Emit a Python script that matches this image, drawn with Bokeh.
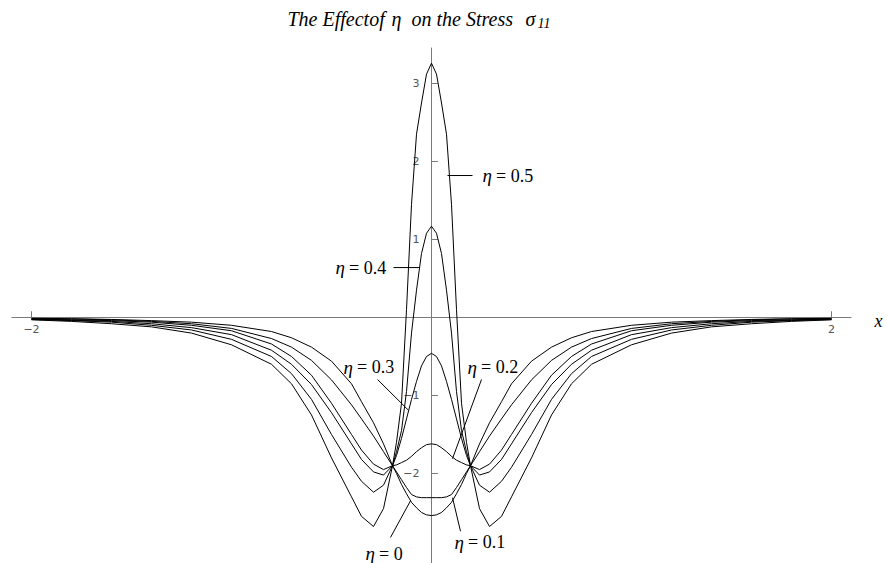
from bokeh.plotting import figure
from bokeh.models import Range1d
from bokeh.core.properties import value
from bokeh.embed import file_html
from bokeh.resources import INLINE

# sample abscissae (x >= 0); the curves are even in x and are mirrored below
xs = [0, 0.025, 0.05, 0.075, 0.1, 0.125, 0.15, 0.175, 0.195, 0.24, 0.29, 0.35,
      0.4, 0.5, 0.6, 0.7, 0.8, 1.0, 1.2, 1.4, 1.6, 1.8, 2.0]

sigma_eta_00 = [-2.54, -2.53, -2.50, -2.44, -2.37, -2.26, -2.14, -2.00, -1.90, -1.62, -1.35, -1.08,
                -0.85, -0.56, -0.38, -0.26, -0.18, -0.10, -0.06, -0.04, -0.025, -0.015, -0.01]
sigma_eta_01 = [-2.31, -2.31, -2.31, -2.30, -2.27, -2.18, -2.08, -1.98, -1.90, -1.72, -1.52, -1.30,
                -1.12, -0.80, -0.55, -0.38, -0.27, -0.14, -0.08, -0.05, -0.03, -0.02, -0.015]
sigma_eta_02 = [-1.62, -1.63, -1.67, -1.72, -1.78, -1.83, -1.86, -1.89, -1.90, -1.95, -1.88, -1.70,
                -1.50, -1.10, -0.74, -0.50, -0.34, -0.17, -0.10, -0.06, -0.04, -0.03, -0.02]
sigma_eta_03 = [-0.46, -0.50, -0.62, -0.82, -1.05, -1.30, -1.55, -1.77, -1.90, -2.02, -1.98, -1.82,
                -1.62, -1.22, -0.86, -0.60, -0.42, -0.22, -0.13, -0.08, -0.05, -0.035, -0.02]
sigma_eta_04 = [1.17, 1.08, 0.82, 0.35, -0.20, -0.95, -1.45, -1.72, -1.90, -2.15, -2.24, -2.10,
                -1.92, -1.50, -1.05, -0.72, -0.50, -0.28, -0.16, -0.10, -0.06, -0.04, -0.025]
sigma_eta_05 = [3.26, 3.12, 2.75, 2.35, 1.45, 0.10, -1.10, -1.60, -1.90, -2.45, -2.68, -2.55,
                -2.30, -1.80, -1.25, -0.85, -0.60, -0.35, -0.20, -0.12, -0.08, -0.05, -0.03]

curves = [sigma_eta_00, sigma_eta_01, sigma_eta_02, sigma_eta_03, sigma_eta_04, sigma_eta_05]

x_ticks = [-2, 2]
x_tick_labels = ["\u22122", "2"]
y_ticks = [-2, -1, 1, 2, 3]
y_tick_labels = ["\u22122", "\u22121", "1", "2", "3"]

# curve labels: value text, left edge / middle of the label, leader line start/end
eta_values = ["0", "0.1", "0.2", "0.3", "0.4", "0.5"]
label_x = [-0.33, 0.115, 0.18, -0.44, -0.48, 0.255]
label_y = [-3.03, -2.88, -0.64, -0.64, 0.64, 1.82]
leader_x0 = [-0.205, 0.145, 0.25, -0.27, -0.19, 0.08]
leader_y0 = [-2.82, -2.74, -0.795, -0.795, 0.64, 1.82]
leader_x1 = [-0.105, 0.105, 0.105, -0.115, -0.06, 0.205]
leader_y1 = [-2.35, -2.31, -1.81, -1.19, 0.64, 1.82]

p = figure(width=887, height=563, output_backend="svg", toolbar_location=None,
           x_range=Range1d(-2.155, 2.28), y_range=Range1d(-3.154, 4.064),
           min_border=0, outline_line_color=None)
p.axis.visible = False
p.grid.visible = False
p.background_fill_color = "white"
p.border_fill_color = "white"

axis_color = "#7a7a7a"
# axes crossing at the origin
p.segment(x0=[-2.1], y0=[0], x1=[2.1], y1=[0], line_color=axis_color, line_width=1)
p.segment(x0=[0], y0=[-3.15], x1=[0], y1=[3.46], line_color=axis_color, line_width=1)
# tick marks
p.segment(x0=x_ticks, y0=[0] * len(x_ticks), x1=x_ticks, y1=[0.08] * len(x_ticks),
          line_color=axis_color, line_width=1)
p.segment(x0=[0] * len(y_ticks), y0=y_ticks, x1=[0.032] * len(y_ticks), y1=y_ticks,
          line_color=axis_color, line_width=1)
tick_font = value("DejaVu Sans")
p.text(x=x_ticks, y=[-0.1] * len(x_ticks), text=x_tick_labels, text_font=tick_font,
       text_font_size="11px", text_color="#555555", text_align="center", text_baseline="top")
p.text(x=[-0.06] * len(y_ticks), y=y_ticks, text=y_tick_labels,
       text_font=tick_font, text_font_size="11px", text_color="#555555",
       text_align="right", text_baseline="middle")

# stress curves
for ys in curves:
    full_x = [-v for v in xs[::-1]] + xs[1:]
    full_y = ys[::-1] + ys[1:]
    p.line(full_x, full_y, line_color="black", line_width=1)

serif = value("Liberation Serif")
p.segment(x0=leader_x0, y0=leader_y0, x1=leader_x1, y1=leader_y1, line_color="black", line_width=1)
# italic eta followed by "= value"
p.text(x=label_x, y=label_y, text=["\u03b7"] * len(label_x), text_font=serif,
       text_font_style="italic", text_font_size="19px", text_align="left",
       text_baseline="middle", text_color="black")
p.text(x=[v + 0.068 for v in label_x], y=label_y, text=["= " + v for v in eta_values],
       text_font=serif, text_font_size="18px", text_align="left",
       text_baseline="middle", text_color="black")

# title pieces, laid out with wide gaps around the symbols
title_parts = ["The Effectof", "\u03b7", "on the Stress", "\u03c3"]
title_x = [-0.72, -0.2, -0.1, 0.47]
p.text(x=title_x, y=[3.83] * 4, text=title_parts, text_font=serif, text_font_style="italic",
       text_font_size="20px", text_align="left", text_baseline="alphabetic", text_color="black")
p.text(x=[0.53], y=[3.78], text=["11"], text_font=serif, text_font_style="italic",
       text_font_size="14px", text_align="left", text_baseline="alphabetic", text_color="black")
p.text(x=[2.215], y=[-0.04], text=["x"], text_font=serif, text_font_style="italic",
       text_font_size="18px", text_align="left", text_baseline="middle", text_color="black")

open("out.html", "w").write(file_html(p, INLINE))
